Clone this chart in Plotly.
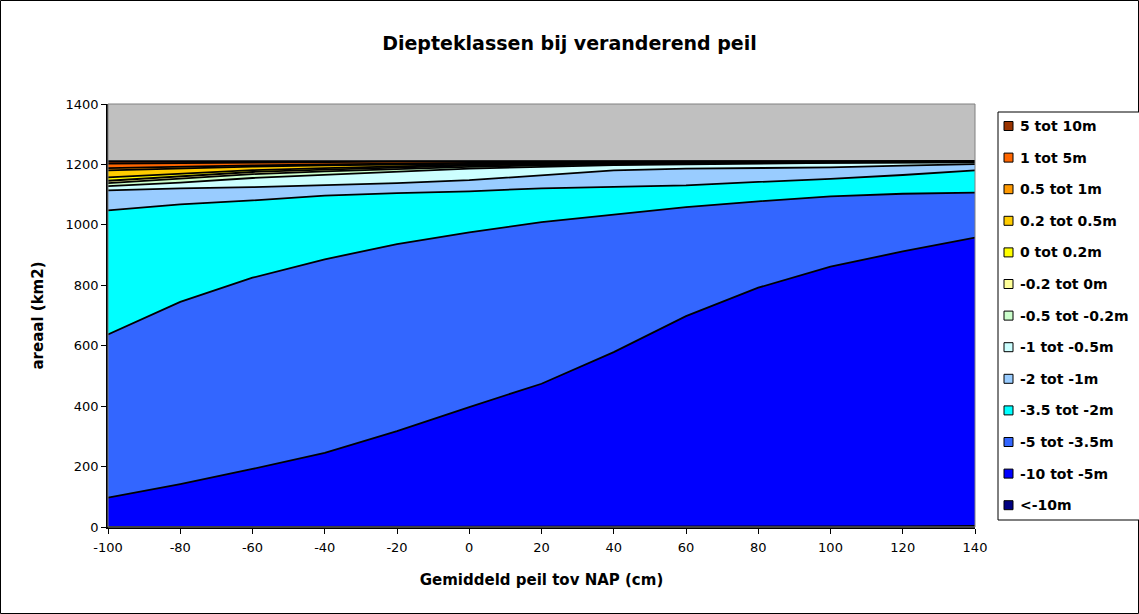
import plotly.graph_objects as go

# x: mean water level relative to NAP (cm)
peil = [-100, -80, -60, -40, -20, 0, 20, 40, 60, 80, 100, 120, 140]

# area per depth class (km2), bottom of stack first
kl_lt_m10 = [0, 0, 0, 0, 0, 0, 0, 0, 0, 0, 0, 2, 4]
kl_m10_m5 = [97, 142, 192, 245, 317, 397, 474, 579, 698, 792, 862, 910, 954]
kl_m5_m35 = [540, 603, 633, 641, 619, 578, 535, 454, 361, 286, 232, 191, 149]
kl_m35_m2 = [411, 323, 256, 211, 169, 136, 112, 93, 72, 64, 58, 62, 73]
kl_m2_m1 = [66, 53, 44, 34, 33, 37, 44, 54, 55, 46, 38, 31, 21]
kl_m1_m05 = [14, 19, 30, 34, 39, 38, 27, 18, 14, 15, 15, 10, 6]
kl_m05_m02 = [10, 12, 13, 12, 8, 6, 5, 3, 3, 2, 1, 1, 1]
kl_m02_0 = [8, 8, 7, 6, 5, 4, 3, 2, 2, 1, 1, 1, 1]
kl_0_02 = [11, 9, 6, 5, 4, 3, 2, 2, 1, 1, 1, 1, 0]
kl_02_05 = [23, 18, 12, 9, 6, 4, 3, 2, 1, 1, 1, 0, 1]
kl_05_1 = [8, 6, 4, 3, 3, 2, 1, 1, 1, 1, 0, 1, 0]
kl_1_5 = [15, 12, 10, 8, 6, 4, 4, 2, 2, 1, 1, 1, 1]
kl_5_10 = [8, 6, 4, 3, 2, 2, 1, 1, 1, 1, 1, 0, 0]

names = ["<-10m", "-10 tot -5m", "-5 tot -3.5m", "-3.5 tot -2m", "-2 tot -1m",
         "-1 tot -0.5m", "-0.5 tot -0.2m", "-0.2 tot 0m", "0 tot 0.2m",
         "0.2 tot 0.5m", "0.5 tot 1m", "1 tot 5m", "5 tot 10m"]
series = [kl_lt_m10, kl_m10_m5, kl_m5_m35, kl_m35_m2, kl_m2_m1, kl_m1_m05,
          kl_m05_m02, kl_m02_0, kl_0_02, kl_02_05, kl_05_1, kl_1_5, kl_5_10]
colors = ["#000080", "#0000FF", "#3366FF", "#00FFFF", "#99CCFF", "#CCFFFF",
          "#CCFFCC", "#FFFF99", "#FFFF00", "#FFCC00", "#FF9900", "#FF6600", "#993300"]

FONT = "DejaVu Sans"
W, H = 1139, 614
L, R, T, B = 108, 975, 104, 527  # plot area in px
pw, ph = R - L, B - T

def px_x(p):
    return (p - L) / pw

def px_y(p):
    return (B - p) / ph

fig = go.Figure()
for nm, vals, col in zip(names, series, colors):
    fig.add_trace(go.Scatter(
        x=peil, y=vals, name=nm, mode="lines", stackgroup="one",
        line=dict(color="black", width=1.8), fillcolor=col,
        showlegend=False, hoverinfo="x+y+name"))

shapes = [
    # outer chart border
    dict(type="rect", xref="paper", yref="paper",
         x0=px_x(0.5), x1=px_x(W - 0.5), y0=px_y(H - 0.5), y1=px_y(0.5),
         line=dict(color="black", width=1), layer="below"),
    # legend box
    dict(type="rect", xref="paper", yref="paper",
         x0=px_x(998), x1=px_x(1150), y0=px_y(520), y1=px_y(112),
         line=dict(color="black", width=1), fillcolor="white", layer="below"),
    # plot-area border (top/right grey)
    dict(type="rect", xref="paper", yref="paper", x0=0, x1=1, y0=0, y1=1,
         line=dict(color="#808080", width=1), layer="above"),
]
annotations = []

# manual legend (top of stack first)
leg_top, leg_step = 126, 31.6
for i, (nm, col) in enumerate(reversed(list(zip(names, colors)))):
    yc = leg_top + i * leg_step
    shapes.append(dict(type="rect", xref="paper", yref="paper",
                       x0=px_x(1004), x1=px_x(1013),
                       y0=px_y(yc + 4.5), y1=px_y(yc - 4.5),
                       fillcolor=col, line=dict(color="black", width=1),
                       layer="above"))
    annotations.append(dict(text="<b>" + nm + "</b>", xref="paper", yref="paper",
                            x=px_x(1018), y=px_y(yc), xanchor="left",
                            yanchor="middle", showarrow=False,
                            font=dict(size=14, family=FONT, color="black")))

fig.update_layout(
    width=W, height=H, autosize=False,
    margin=dict(l=L, r=W - R, t=T, b=H - B),
    paper_bgcolor="white", plot_bgcolor="#C0C0C0",
    font=dict(family=FONT, color="black", size=13),
    title=dict(text="<b>Diepteklassen bij veranderend peil</b>",
               x=0.5, xanchor="center", y=1 - 43 / H, yanchor="middle",
               font=dict(size=19, family=FONT)),
    showlegend=False,
    xaxis=dict(range=[-100, 140], tickmode="array", tickvals=peil,
               ticktext=[str(v) for v in peil],
               showgrid=False, zeroline=False, showline=True,
               linecolor="black", linewidth=1.5, ticks="outside",
               ticklen=5, tickcolor="black", ticklabelstandoff=3,
               tickfont=dict(size=13, family=FONT),
               title=dict(text="<b>Gemiddeld peil tov NAP (cm)</b>",
                          font=dict(size=15, family=FONT), standoff=20)),
    yaxis=dict(range=[0, 1400], dtick=200, showgrid=False, zeroline=False,
               showline=True, linecolor="black", linewidth=1.5,
               ticks="outside", ticklen=5, tickcolor="black",
               tickfont=dict(size=13, family=FONT),
               title=dict(text="<b>areaal (km2)</b>",
                          font=dict(size=15, family=FONT), standoff=18)),
    shapes=shapes,
    annotations=annotations,
)

fig.write_html(
    "out.html",
    config={"displayModeBar": False},
    post_script=(
        "document.documentElement.style.margin='0';"
        "document.documentElement.style.overflow='hidden';"
        "document.body.style.margin='0';"
        "document.body.style.overflow='hidden';"
    ),
)
